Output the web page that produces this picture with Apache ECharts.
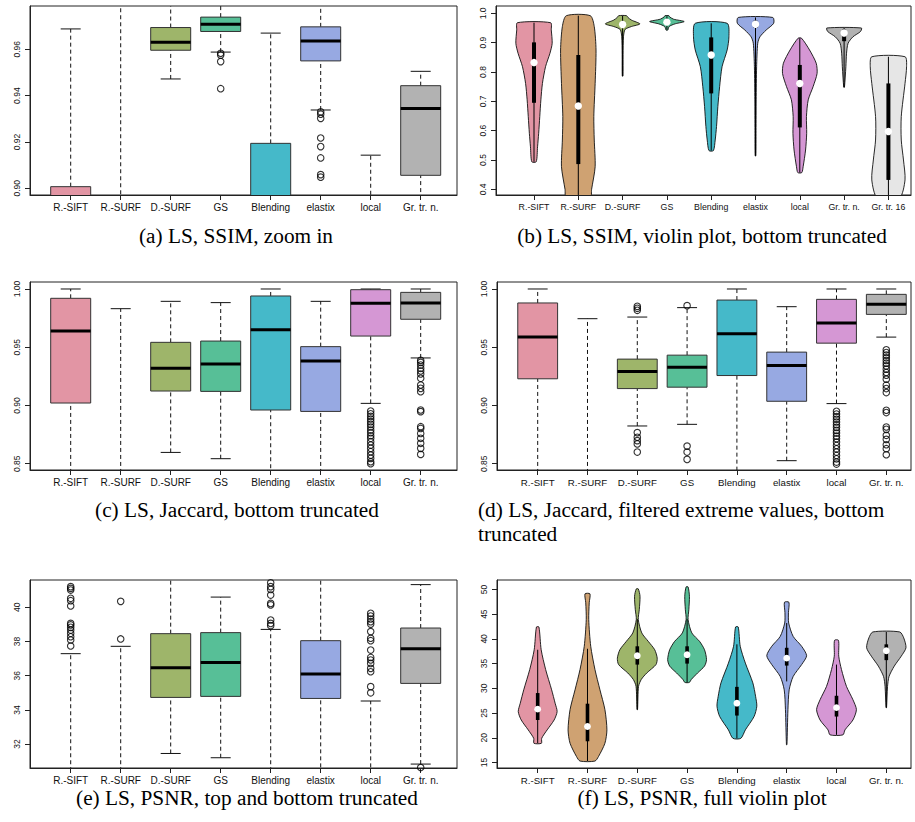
<!DOCTYPE html>
<html><head><meta charset="utf-8">
<script src="https://cdn.jsdelivr.net/npm/echarts@6/dist/echarts.min.js"></script>
<style>html,body{margin:0;padding:0;background:#fff}#c{width:915px;height:822px}</style>
</head><body><div id="c"></div>
<script>
// ---------- categories & colours ----------
const methods8 = ['R.-SIFT','R.-SURF','D.-SURF','GS','Blending','elastix','local','Gr. tr. n.'];
const methods9 = ['R.-SIFT','R.-SURF','D.-SURF','GS','Blending','elastix','local','Gr. tr. n.','Gr. tr. 16'];
const fillColors = ['#E295A4','#CFA272','#9EB56A','#57BF97','#45B9C9','#97A9E2','#D597D4','#B2B2B2','#E6E6E6'];

// ---------- tick labels ----------
const ssimZoomTicks = [0.90, 0.92, 0.94, 0.96];
const ssimViolinTicks = [0.4, 0.5, 0.6, 0.7, 0.8, 0.9, 1.0];
const jaccardTicks = [0.85, 0.90, 0.95, 1.00];
const psnrBoxTicks = [32, 34, 36, 38, 40];
const psnrViolinTicks = [15, 20, 25, 30, 35, 40, 45, 50];

// ---------- (a) LS, SSIM, zoom in : [lowWhisker, Q1, median, Q3, highWhisker] ----------
const ssimZoomStats = [
  [0.60, 0.78, 0.86, 0.9007, 0.9688],
  [0.50, 0.68, 0.76, 0.84, 0.990],
  [0.9472, 0.9596, 0.9631, 0.9694, 0.984],
  [0.9588, 0.9677, 0.9708, 0.9739, 0.983],
  [0.70, 0.82, 0.87, 0.9194, 0.9670],
  [0.9338, 0.9550, 0.9636, 0.9697, 0.990],
  [0.60, 0.75, 0.82, 0.87, 0.9143],
  [0.85, 0.9056, 0.9344, 0.9443, 0.9505]
];
const ssimZoomOutliers = [[], [], [], [0.9583, 0.9575, 0.9547, 0.9430], [],
  [0.9330, 0.9320, 0.9302, 0.9217, 0.9180, 0.9131, 0.9059, 0.9048], [], []];

// ---------- (b) LS, SSIM, violin : shape [value, half width], stats [lineLo, Q1, median, Q3, lineHi] ----------
const ssimViolinShapes = [
  [[0.494,0.05],[0.545,0.08],[0.591,0.105],[0.648,0.13],[0.705,0.155],[0.761,0.19],[0.818,0.26],[0.864,0.36],[0.898,0.41],[0.943,0.39],[0.968,0.375]],
  [[0.37,0.27],[0.40,0.30],[0.477,0.38],[0.568,0.36],[0.648,0.35],[0.761,0.38],[0.875,0.40],[0.955,0.36],[0.992,0.27]],
  [[0.786,0.008],[0.86,0.01],[0.92,0.02],[0.945,0.055],[0.955,0.2],[0.964,0.39],[0.977,0.2],[0.986,0.12],[0.992,0.09]],
  [[0.943,0.02],[0.955,0.05],[0.964,0.18],[0.972,0.39],[0.98,0.15],[0.988,0.06],[0.992,0.045]],
  [[0.532,0.05],[0.568,0.09],[0.614,0.12],[0.682,0.15],[0.75,0.19],[0.818,0.245],[0.875,0.36],[0.92,0.40],[0.966,0.36]],
  [[0.514,0.008],[0.60,0.012],[0.705,0.015],[0.818,0.025],[0.898,0.05],[0.92,0.10],[0.943,0.24],[0.966,0.41],[0.986,0.39]],
  [[0.457,0.045],[0.477,0.075],[0.534,0.13],[0.591,0.155],[0.648,0.15],[0.705,0.19],[0.75,0.30],[0.795,0.39],[0.83,0.37],[0.875,0.22],[0.915,0.04]],
  [[0.748,0.008],[0.818,0.04],[0.864,0.055],[0.898,0.09],[0.92,0.20],[0.938,0.37],[0.95,0.39]],
  [[0.37,0.25],[0.432,0.375],[0.50,0.34],[0.568,0.29],[0.648,0.29],[0.761,0.375],[0.818,0.41],[0.852,0.375]]
];
const ssimViolinStats = [
  [0.494, 0.695, 0.832, 0.901, 0.968],
  [0.37, 0.486, 0.684, 0.858, 0.992],
  [0.786, 0.957, 0.962, 0.968, 0.992],
  [0.945, 0.967, 0.970, 0.974, 0.990],
  [0.532, 0.727, 0.858, 0.918, 0.966],
  [0.514, 0.950, 0.963, 0.975, 0.986],
  [0.457, 0.611, 0.761, 0.824, 0.915],
  [0.748, 0.905, 0.933, 0.945, 0.950],
  [0.37, 0.432, 0.597, 0.761, 0.852]
];

// ---------- (c) LS, Jaccard ----------
const jaccardStats = [
  [0.80, 0.9021, 0.9639, 0.9920, 1.000],
  [0.40, 0.62, 0.72, 0.80, 0.9831],
  [0.8597, 0.9124, 0.9319, 0.9542, 0.9894],
  [0.8543, 0.9121, 0.9356, 0.9553, 0.9883],
  [0.78, 0.8961, 0.9651, 0.9940, 1.000],
  [0.80, 0.8949, 0.9382, 0.9505, 0.9894],
  [0.9018, 0.9596, 0.9877, 0.9994, 1.000],
  [0.9408, 0.9740, 0.9880, 0.9971, 1.000]
];
const jaccardOutliers = [[], [], [], [0.8440], [], [],
  [0.8952,0.8929,0.8906,0.8884,0.8861,0.8838,0.8815,0.8789,0.8766,0.8740,0.8718,0.8689,0.8660,0.8632,0.8603,0.8574,0.8546,0.8517,0.8500],
  [0.9387,0.9370,0.9347,0.9319,0.9296,0.9270,0.9233,0.9176,0.9147,0.9118,0.8961,0.8947,0.8818,0.8803,0.8760,0.8718,0.8675,0.8632,0.8580]];

// ---------- (d) LS, Jaccard, filtered ----------
const jaccardFiltStats = [
  [0.80, 0.9229, 0.9587, 0.9880, 1.000],
  [0.40, 0.62, 0.72, 0.80, 0.9745],
  [0.8824, 0.9145, 0.9292, 0.9398, 0.9759],
  [0.8838, 0.9157, 0.9329, 0.9432, 0.9840],
  [0.82, 0.9257, 0.9616, 0.9905, 1.000],
  [0.8526, 0.9036, 0.9343, 0.9458, 0.9848],
  [0.9016, 0.9535, 0.9707, 0.9911, 1.000],
  [0.9587, 0.9782, 0.9868, 0.9954, 1.000]
];
const jaccardFiltOutliers = [[], [],
  [0.9851,0.9834,0.9817,0.8767,0.8727,0.8698,0.8670,0.8600],
  [0.9857,0.8651,0.8600,0.8537,0.8440], [], [],
  [0.8950,0.8927,0.8904,0.8881,0.8858,0.8835,0.8812,0.8786,0.8763,0.8737,0.8714,0.8686,0.8657,0.8628,0.8600,0.8571,0.8542,0.8514,0.8497],
  [0.9478,0.9455,0.9432,0.9409,0.9386,0.9363,0.9340,0.9312,0.9283,0.9260,0.9226,0.9174,0.9145,0.9111,0.8959,0.8939,0.8815,0.8795,0.8744,0.8709,0.8663,0.8629,0.8577]];

// ---------- (e) LS, PSNR ----------
const psnrStats = [
  [22, 25, 27.5, 30, 37.29],
  [20, 24, 27, 30, 37.72],
  [31.45, 34.73, 36.47, 38.46, 44],
  [31.20, 34.79, 36.78, 38.52, 40.60],
  [20, 24, 27, 30, 38.71],
  [29, 34.67, 36.10, 38.05, 43],
  [18, 23, 26, 29, 34.52],
  [30.83, 35.55, 37.58, 38.79, 41.33]
];
const psnrOutliers = [
  [41.21,41.11,41.01,40.53,40.39,40.08,39.06,38.97,38.83,38.67,38.48,38.28,38.09,37.74],
  [40.35,38.15], [], [],
  [41.44,41.21,41.05,40.72,40.23,40.14,39.26,39.06,38.93], [],
  [39.65,39.49,39.32,39.16,39.02,38.58,38.19,38.05,37.50,37.07,36.92,36.72,36.43,36.23,35.36,35.00],
  [30.63]
];

// ---------- (f) LS, PSNR, violin ----------
const psnrViolinShapes = [
  [[18.9,0.075],[19.9,0.08],[21.6,0.19],[23.6,0.33],[25.3,0.39],[27.0,0.35],[29.7,0.28],[33.8,0.16],[37.8,0.07],[42.4,0.025]],
  [[15.3,0.15],[16.2,0.22],[18.9,0.35],[21.6,0.39],[25.7,0.35],[29.7,0.25],[33.8,0.15],[38.5,0.065],[43.9,0.025],[47.3,0.035],[49.1,0.05]],
  [[25.7,0.005],[30.4,0.025],[31.8,0.08],[33.1,0.19],[34.8,0.375],[36.1,0.40],[37.8,0.35],[39.5,0.22],[41.2,0.09],[43.9,0.02],[45.9,0.04],[48.6,0.055],[50.1,0.02]],
  [[31.2,0.045],[31.8,0.085],[33.1,0.21],[34.5,0.35],[35.8,0.39],[37.8,0.35],[39.5,0.25],[41.2,0.095],[43.9,0.02],[45.9,0.035],[48.6,0.047],[50.5,0.02]],
  [[19.9,0.08],[21.6,0.17],[24.3,0.345],[26.4,0.40],[28.4,0.375],[31.1,0.32],[35.1,0.17],[38.5,0.067],[42.4,0.027]],
  [[18.6,0.005],[25.7,0.025],[29.7,0.05],[32.4,0.13],[34.8,0.30],[36.6,0.40],[38.5,0.30],[40.5,0.13],[43.2,0.04],[45.3,0.035],[47.4,0.045]],
  [[20.6,0.13],[21.6,0.17],[23.6,0.33],[25.7,0.40],[27.7,0.33],[30.4,0.20],[33.8,0.10],[36.5,0.045],[39.7,0.04]],
  [[26.1,0.005],[30.4,0.025],[32.4,0.055],[34.5,0.16],[36.5,0.30],[38.2,0.395],[40.2,0.35],[41.4,0.27]]
];
const psnrViolinStats = [
  [18.9, 23.6, 25.8, 29.05, 37.8],
  [15.3, 19.3, 22.3, 26.9, 38.0],
  [25.7, 34.8, 36.6, 38.5, 44.0],
  [31.2, 35.0, 36.8, 38.5, 44.0],
  [19.9, 24.5, 27.0, 30.3, 38.9],
  [31.4, 34.6, 36.1, 38.2, 43.2],
  [20.6, 24.3, 26.1, 28.5, 34.8],
  [26.1, 35.7, 37.6, 38.9, 41.4]
];

const captions = [
  {text: '(a) LS, SSIM, zoom in', x: 236, y: 236, align: 'center'},
  {text: '(b) LS, SSIM, violin plot, bottom truncated', x: 702, y: 236, align: 'center'},
  {text: '(c) LS, Jaccard, bottom truncated', x: 237, y: 510, align: 'center'},
  {text: '(d) LS, Jaccard, filtered extreme values, bottom', x: 478, y: 510, align: 'left'},
  {text: 'truncated', x: 478, y: 534, align: 'left'},
  {text: '(e) LS, PSNR, top and bottom truncated', x: 247, y: 798, align: 'center'},
  {text: '(f) LS, PSNR, full violin plot', x: 702, y: 798, align: 'center'}
];

// ---------- layout ----------
const panels = [
  {grid: {left: 30, top: 6, width: 427, height: 189}, x: [0.186, 8.726], y: [0.8971, 0.9787], names: methods8, ticks: ssimZoomTicks, dec: 2, xfs: 10},
  {grid: {left: 496, top: 6, width: 415, height: 189}, x: [0.142, 9.51], y: [0.3806, 1.025], names: methods9, ticks: ssimViolinTicks, dec: 1, xfs: 8.8},
  {grid: {left: 30, top: 282, width: 427, height: 188}, x: [0.186, 8.726], y: [0.8446, 1.006], names: methods8, ticks: jaccardTicks, dec: 2, xfs: 10},
  {grid: {left: 497, top: 282, width: 414, height: 188}, x: [0.183, 8.496], y: [0.8446, 1.006], names: methods8, ticks: jaccardTicks, dec: 2, xfs: 9.7},
  {grid: {left: 30, top: 580, width: 427, height: 188}, x: [0.186, 8.726], y: [30.6, 41.6], names: methods8, ticks: psnrBoxTicks, dec: 0, xfs: 10},
  {grid: {left: 497, top: 580, width: 414, height: 188}, x: [0.183, 8.496], y: [13.9, 51.9], names: methods8, ticks: psnrViolinTicks, dec: 0, xfs: 9.7}
];

const AX = '#222';
function clipOf(params) {
  const c = params.coordSys;
  return {type: 'rect', shape: {x: c.x, y: c.y, width: c.width, height: c.height}};
}

function boxRender(stats) {
  return function (params, api) {
    const i = params.dataIndex, x = i + 1, s = stats[i];
    const P = (dx, v) => api.coord([x + dx, v]);
    const lo = P(0, s[0]), q1 = P(0, s[1]), md = P(0, s[2]), q3 = P(0, s[3]), hi = P(0, s[4]);
    const l = P(-0.4, s[2])[0], r = P(0.4, s[2])[0];
    const cl = P(-0.2, s[2])[0], cr = P(0.2, s[2])[0];
    const dash = {stroke: '#111', lineWidth: 1, lineDash: [4, 3]};
    const solid = {stroke: '#111', lineWidth: 1};
    return {
      type: 'group', clipPath: clipOf(params), children: [
        {type: 'line', shape: {x1: lo[0], y1: lo[1], x2: q1[0], y2: q1[1]}, style: dash},
        {type: 'line', shape: {x1: q3[0], y1: q3[1], x2: hi[0], y2: hi[1]}, style: dash},
        {type: 'line', shape: {x1: cl, y1: lo[1], x2: cr, y2: lo[1]}, style: solid},
        {type: 'line', shape: {x1: cl, y1: hi[1], x2: cr, y2: hi[1]}, style: solid},
        {type: 'rect', shape: {x: l, y: q3[1], width: r - l, height: q1[1] - q3[1]},
          style: {fill: fillColors[i], stroke: '#333', lineWidth: 1}},
        {type: 'line', shape: {x1: l, y1: md[1], x2: r, y2: md[1]}, style: {stroke: '#000', lineWidth: 3}}
      ]
    };
  };
}

function violinRender(shapes, stats, boxPx, dotR) {
  return function (params, api) {
    const i = params.dataIndex, x = i + 1, prof = shapes[i], s = stats[i];
    const pts = [];
    for (let k = 0; k < prof.length; k++) pts.push(api.coord([x + prof[k][1], prof[k][0]]));
    for (let k = prof.length - 1; k >= 0; k--) pts.push(api.coord([x - prof[k][1], prof[k][0]]));
    const lo = api.coord([x, s[0]]), q1 = api.coord([x, s[1]]), md = api.coord([x, s[2]]),
      q3 = api.coord([x, s[3]]), hi = api.coord([x, s[4]]);
    return {
      type: 'group', clipPath: clipOf(params), children: [
        {type: 'polygon', shape: {points: pts, smooth: 0.25}, style: {fill: fillColors[i], stroke: '#111', lineWidth: 0.9}},
        {type: 'line', shape: {x1: lo[0], y1: lo[1], x2: hi[0], y2: hi[1]}, style: {stroke: '#000', lineWidth: 1}},
        {type: 'rect', shape: {x: q1[0] - boxPx / 2, y: q3[1], width: boxPx, height: q1[1] - q3[1]}, style: {fill: '#000'}},
        {type: 'circle', shape: {cx: md[0], cy: md[1], r: dotR}, style: {fill: '#fff'}}
      ]
    };
  };
}

const grids = [], xAxes = [], yAxes = [], series = [];
panels.forEach((p, gi) => {
  grids.push(Object.assign({show: true, borderColor: AX, borderWidth: 1, backgroundColor: '#fff'}, p.grid));
  const cats = p.names.map((_, i) => i + 1);
  xAxes.push({
    type: 'value', gridIndex: gi, min: p.x[0], max: p.x[1],
    axisLine: {show: true, onZero: false, lineStyle: {color: AX, width: 1}},
    axisTick: {show: true, length: 5, customValues: cats, lineStyle: {color: AX}},
    axisLabel: {customValues: cats, formatter: v => p.names[Math.round(v) - 1] || '',
      fontFamily: 'Liberation Sans', fontSize: p.xfs, color: '#111', margin: 7},
    splitLine: {show: false}
  });
  yAxes.push({
    type: 'value', gridIndex: gi, min: p.y[0], max: p.y[1],
    axisLine: {show: true, onZero: false, lineStyle: {color: AX, width: 1}},
    axisTick: {show: true, length: 5, customValues: p.ticks, lineStyle: {color: AX}},
    axisLabel: {customValues: p.ticks, rotate: 90, formatter: v => Number(v).toFixed(p.dec),
      fontFamily: 'Liberation Sans', fontSize: 8.5, color: '#111', margin: 9},
    splitLine: {show: false}
  });
});

function addBoxPanel(gi, stats, outliers) {
  series.push({
    type: 'custom', xAxisIndex: gi, yAxisIndex: gi, silent: true,
    renderItem: boxRender(stats),
    encode: {x: 0, y: 1},
    data: stats.map((s, i) => [i + 1, s[2]])
  });
  const pts = [];
  outliers.forEach((arr, i) => arr.forEach(v => pts.push([i + 1, v])));
  series.push({
    type: 'scatter', xAxisIndex: gi, yAxisIndex: gi, silent: true, clip: true,
    symbol: 'circle', symbolSize: 6.5,
    itemStyle: {color: 'rgba(255,255,255,0)', borderColor: '#000', borderWidth: 1.1},
    data: pts
  });
}
function addViolinPanel(gi, shapes, stats, boxPx, dotR) {
  series.push({
    type: 'custom', xAxisIndex: gi, yAxisIndex: gi, silent: true,
    renderItem: violinRender(shapes, stats, boxPx, dotR),
    encode: {x: 0, y: 1},
    data: stats.map((s, i) => [i + 1, s[2]])
  });
}

addBoxPanel(0, ssimZoomStats, ssimZoomOutliers);
addViolinPanel(1, ssimViolinShapes, ssimViolinStats, 4, 3.7);
addBoxPanel(2, jaccardStats, jaccardOutliers);
addBoxPanel(3, jaccardFiltStats, jaccardFiltOutliers);
addBoxPanel(4, psnrStats, psnrOutliers);
addViolinPanel(5, psnrViolinShapes, psnrViolinStats, 3.6, 3.4);

const graphics = captions.map(c => ({
  type: 'text', x: c.x, y: c.y, silent: true,
  style: {text: c.text, font: '21.3px "Liberation Serif"', fill: '#000',
    textAlign: c.align, align: c.align, textVerticalAlign: 'middle', verticalAlign: 'middle'}
}));

const chart = echarts.init(document.getElementById('c'), null, {renderer: 'svg'});
chart.setOption({
  animation: false,
  backgroundColor: '#fff',
  grid: grids, xAxis: xAxes, yAxis: yAxes, series: series,
  graphic: graphics
});
</script></body></html>
